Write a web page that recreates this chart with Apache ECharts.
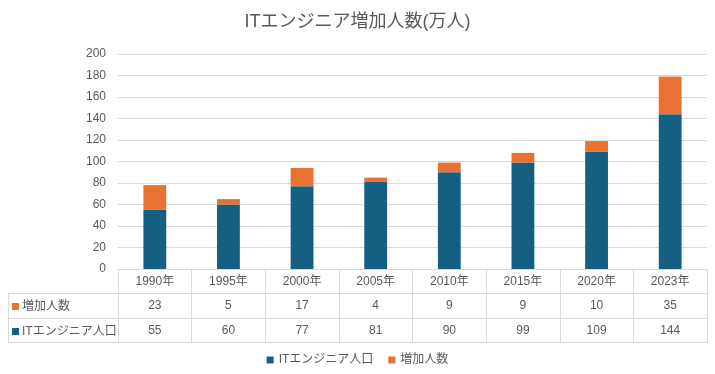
<!DOCTYPE html>
<html>
<head>
<meta charset="utf-8">
<script src="https://cdn.jsdelivr.net/npm/echarts@6/dist/echarts.min.js"></script>
<style>html,body{margin:0;padding:0;background:#fff}#c{width:715px;height:374px}</style>
</head>
<body>
<div id="c"></div>
<script>
var title = 'ITエンジニア増加人数(万人)';
var categories = ['1990年','1995年','2000年','2005年','2010年','2015年','2020年','2023年'];
var seriesNames = ['ITエンジニア人口','増加人数'];
var population = [55, 60, 77, 81, 90, 99, 109, 144];
var increase = [23, 5, 17, 4, 9, 9, 10, 35];
var yTicks = {min: 0, max: 200, interval: 20};

var BLUE = '#156082', ORANGE = '#E97132', TEXT = '#595959', LINE = '#d9d9d9';
var FONT = "'Liberation Sans', 'Noto Sans CJK JP', sans-serif";
var GRID_LEFT = 118, GRID_RIGHT = 8, GRID_TOP = 54, GRID_BOTTOM = 105;
var TABLE_LEFT = 8;
var ROW_OFFSETS = [24, 49, 73];
var LABEL_MARGIN = 7;

var chart = echarts.init(document.getElementById('c'));
var H = 374;
var axisY0 = H - GRID_BOTTOM;

function rowName(label, color) {
  return {
    name: '{sq|}{t|' + label + '}',
    nameLocation: 'start',
    nameGap: GRID_LEFT - 12,
    nameTextStyle: {
      align: 'left', verticalAlign: 'middle', padding: [27, 0, 0, 0],
      rich: {
        sq: {width: 7, height: 7, backgroundColor: color},
        t: {fontSize: 12, color: TEXT, fontFamily: FONT, padding: [0, 0, 0, 3]}
      }
    }
  };
}

function tableAxis(offset, values, nameCfg) {
  var ax = {
    type: 'category', data: categories, position: 'bottom', offset: offset,
    axisLine: {show: true, lineStyle: {color: LINE, width: 1}},
    axisTick: {show: false},
    axisLabel: values ? {
      interval: 0, margin: LABEL_MARGIN, color: TEXT, fontSize: 12, fontFamily: FONT,
      formatter: function (v, i) { return String(values[i]); }
    } : {show: false}
  };
  if (nameCfg) Object.assign(ax, nameCfg);
  return ax;
}

var leftLines = [];
ROW_OFFSETS.forEach(function (o) {
  var y = axisY0 + o + 0.5;
  leftLines.push({type: 'line', shape: {x1: TABLE_LEFT, y1: y, x2: GRID_LEFT, y2: y}, style: {stroke: LINE, lineWidth: 1}, silent: true});
});
leftLines.push({type: 'line', shape: {x1: TABLE_LEFT + 0.5, y1: axisY0 + ROW_OFFSETS[0] + 0.5, x2: TABLE_LEFT + 0.5, y2: axisY0 + ROW_OFFSETS[2] + 0.5}, style: {stroke: LINE, lineWidth: 1}, silent: true});

chart.setOption({
  animation: false,
  textStyle: {fontFamily: FONT},
  title: {text: title, left: 'center', top: 8, textStyle: {fontSize: 18, fontWeight: 'normal', color: TEXT, fontFamily: FONT}},
  legend: {
    data: seriesNames, bottom: 3, left: 'center', icon: 'rect', itemWidth: 7, itemHeight: 7, itemGap: 15,
    textStyle: {fontSize: 12, color: TEXT, fontFamily: FONT}
  },
  grid: {left: GRID_LEFT, right: GRID_RIGHT, top: GRID_TOP, bottom: GRID_BOTTOM, containLabel: false},
  xAxis: [
    {
      type: 'category', data: categories, position: 'bottom',
      axisLine: {show: true, lineStyle: {color: LINE, width: 1}},
      axisTick: {show: true, interval: 0, length: ROW_OFFSETS[2], lineStyle: {color: LINE, width: 1}},
      axisLabel: {interval: 0, margin: LABEL_MARGIN, color: TEXT, fontSize: 12, fontFamily: FONT}
    },
    tableAxis(ROW_OFFSETS[0], increase, rowName(seriesNames[1], ORANGE)),
    tableAxis(ROW_OFFSETS[1], population, rowName(seriesNames[0], BLUE)),
    tableAxis(ROW_OFFSETS[2], null, null)
  ],
  yAxis: {
    type: 'value', min: yTicks.min, max: yTicks.max, interval: yTicks.interval,
    axisLine: {show: false}, axisTick: {show: false},
    axisLabel: {color: TEXT, fontSize: 12, fontFamily: FONT, margin: 12},
    splitLine: {lineStyle: {color: LINE, width: 1}}
  },
  series: [
    {name: seriesNames[0], type: 'bar', stack: 's', data: population, barWidth: '31%', itemStyle: {color: BLUE}},
    {name: seriesNames[1], type: 'bar', stack: 's', data: increase, barWidth: '31%', itemStyle: {color: ORANGE}}
  ],
  graphic: leftLines
});
</script>
</body>
</html>
